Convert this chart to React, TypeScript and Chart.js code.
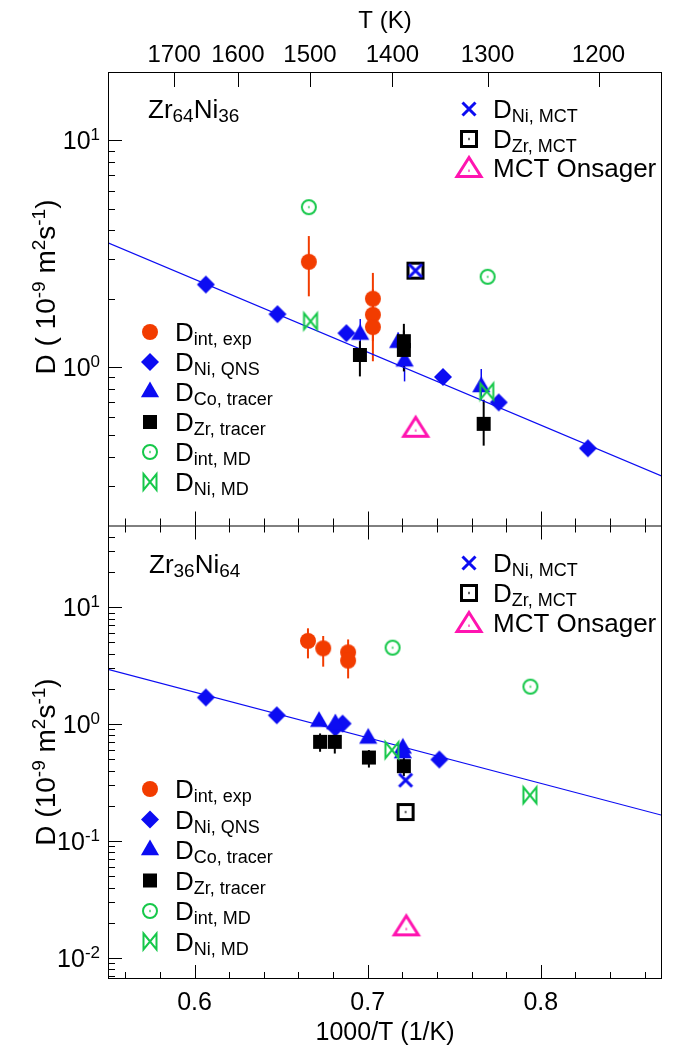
import React, { useEffect, useRef } from 'react';
import { Chart, registerables } from 'chart.js';

Chart.register(...registerables);

// ---------- axes ----------
const X_MIN = 0.55;
const X_MAX = 0.87;
const xMajorTicks = [0.6, 0.7, 0.8];
const xMajorLabels = ['0.6', '0.7', '0.8'];
const topTempTicks = [1700, 1600, 1500, 1400, 1300, 1200];
const yTopRange = [0.2, 20];
const yBotRange = [0.0066, 50];
const yTopDecades = [0, 1];
const yBotDecades = [-2, -1, 0, 1];

// ---------- fit lines ----------
const fitX = [0.55, 0.87];
const fitTopY = [3.53, 0.33];
const fitBotY = [2.94, 0.166];

// ---------- Zr64Ni36 (top panel) ----------
const topIntExpX = [0.666, 0.703, 0.703, 0.703];
const topIntExpY = [2.91, 2.0, 1.7, 1.5];
const topIntExpLo = [2.05, 1.5, 1.3, 1.06];
const topIntExpHi = [3.78, 2.6, 2.2, 1.9];

const topQnsX = [0.6065, 0.6479, 0.6877, 0.7435, 0.7757, 0.8272];
const topQnsY = [2.31, 1.71, 1.41, 0.904, 0.698, 0.438];

const topCoX = [0.6957, 0.7176, 0.7213, 0.7656];
const topCoY = [1.39, 1.28, 1.06, 0.816];
const topCoLo = [1.15, 1.15, 0.864, 0.717];
const topCoHi = [1.63, 1.42, 1.25, 0.98];

const topZrX = [0.6955, 0.7209, 0.7209, 0.767];
const topZrY = [1.13, 1.3, 1.19, 0.5615];
const topZrLo = [0.909, 1.0, 0.956, 0.45];
const topZrHi = [1.3, 1.55, 1.45, 0.717];

const topIntMdX = [0.666, 0.7693];
const topIntMdY = [5.07, 2.5];

const topNiMdX = [0.667, 0.7688];
const topNiMdY = [1.59, 0.78];

const topNiMctX = [0.7276];
const topNiMctY = [2.66];
const topZrMctX = [0.7276];
const topZrMctY = [2.66];
const topOnsX = [0.7277];
const topOnsY = [0.545];

// ---------- Zr36Ni64 (bottom panel) ----------
const botIntExpX = [0.6655, 0.6743, 0.6887, 0.6887];
const botIntExpY = [5.15, 4.45, 4.11, 3.49];
const botIntExpLo = [3.65, 3.1, 3.0, 2.46];
const botIntExpHi = [6.6, 5.67, 5.3, 4.3];

const botQnsX = [0.6065, 0.6475, 0.6813, 0.6855, 0.7414];
const botQnsY = [1.69, 1.19, 0.93, 1.01, 0.498];

const botCoX = [0.6719, 0.6813, 0.7003, 0.7203, 0.7203];
const botCoY = [1.05, 1.0, 0.754, 0.62, 0.565];

const botZrX = [0.6725, 0.681, 0.7007, 0.7209];
const botZrY = [0.705, 0.705, 0.518, 0.437];
const botZrLo = [0.58, 0.56, 0.425, 0.36];
const botZrHi = [0.832, 0.85, 0.6, 0.52];

const botIntMdX = [0.7144, 0.794];
const botIntMdY = [4.51, 2.09];

const botNiMdX = [0.714, 0.7937];
const botNiMdY = [0.599, 0.246];

const botNiMctX = [0.7219];
const botNiMctY = [0.331];
const botZrMctX = [0.7219];
const botZrMctY = [0.177];
const botOnsX = [0.7223];
const botOnsY = [0.019];

// ---------- text ----------
const legendLeft = [
  ['intExp', 'int, exp'],
  ['qns', 'Ni, QNS'],
  ['co', 'Co, tracer'],
  ['zr', 'Zr, tracer'],
  ['intMD', 'int, MD'],
  ['niMD', 'Ni, MD'],
];
const legendRight = [
  ['niMCT', 'Ni, MCT'],
  ['zrMCT', 'Zr, MCT'],
  ['ons', ''],
];

// ---------- styles ----------
const FONT = '"Liberation Sans", Arial, Helvetica, sans-serif';
const BLUE = '#0c0cf2';
const ORANGE = '#f23c00';
const GREEN = '#16c84a';
const MAGENTA = '#ff14b0';
const BLACK = '#000000';

type Part = [string, 'n' | 'sub' | 'sup'];

function drawMarker(ctx: CanvasRenderingContext2D, kind: string, x: number, y: number) {
  ctx.save();
  ctx.lineJoin = 'miter';
  ctx.beginPath();
  switch (kind) {
    case 'intExp':
      ctx.fillStyle = ORANGE;
      ctx.arc(x, y, 8, 0, Math.PI * 2);
      ctx.fill();
      break;
    case 'qns':
      ctx.fillStyle = BLUE;
      ctx.moveTo(x - 9, y);
      ctx.lineTo(x, y - 9);
      ctx.lineTo(x + 9, y);
      ctx.lineTo(x, y + 9);
      ctx.closePath();
      ctx.fill();
      break;
    case 'co': {
      const r = 10.5;
      ctx.fillStyle = BLUE;
      ctx.moveTo(x, y - r);
      ctx.lineTo(x + 0.866 * r, y + 0.5 * r);
      ctx.lineTo(x - 0.866 * r, y + 0.5 * r);
      ctx.closePath();
      ctx.fill();
      break;
    }
    case 'zr':
      ctx.fillStyle = BLACK;
      ctx.fillRect(x - 7, y - 7, 14, 14);
      break;
    case 'intMD':
      ctx.strokeStyle = GREEN;
      ctx.lineWidth = 2;
      ctx.arc(x, y, 7, 0, Math.PI * 2);
      ctx.stroke();
      ctx.fillStyle = GREEN;
      ctx.fillRect(x - 0.6, y - 1.2, 1.2, 2.4);
      break;
    case 'niMD':
      ctx.strokeStyle = GREEN;
      ctx.lineWidth = 2;
      ctx.moveTo(x - 6.5, y - 8);
      ctx.lineTo(x + 6.5, y + 8);
      ctx.lineTo(x + 6.5, y - 8);
      ctx.lineTo(x - 6.5, y + 8);
      ctx.closePath();
      ctx.stroke();
      break;
    case 'niMCT':
      ctx.strokeStyle = BLUE;
      ctx.lineWidth = 3;
      ctx.moveTo(x - 6.5, y - 6.5);
      ctx.lineTo(x + 6.5, y + 6.5);
      ctx.moveTo(x + 6.5, y - 6.5);
      ctx.lineTo(x - 6.5, y + 6.5);
      ctx.stroke();
      break;
    case 'zrMCT':
      ctx.strokeStyle = BLACK;
      ctx.lineWidth = 3;
      ctx.strokeRect(x - 7.5, y - 7.5, 15, 15);
      ctx.fillStyle = BLACK;
      ctx.fillRect(x - 0.6, y - 1.2, 1.2, 2.4);
      break;
    case 'ons':
      ctx.strokeStyle = MAGENTA;
      ctx.lineWidth = 3;
      ctx.moveTo(x, y - 9.5);
      ctx.lineTo(x + 12, y + 9.5);
      ctx.lineTo(x - 12, y + 9.5);
      ctx.closePath();
      ctx.stroke();
      ctx.fillStyle = MAGENTA;
      ctx.fillRect(x - 0.6, y + 2.5, 1.2, 2.4);
      break;
  }
  ctx.restore();
}

function makeMarkerCanvas(kind: string): HTMLCanvasElement {
  const c = document.createElement('canvas');
  c.width = 32;
  c.height = 32;
  const ctx = c.getContext('2d')!;
  drawMarker(ctx, kind, 16, 16);
  return c;
}

function richWidth(ctx: CanvasRenderingContext2D, parts: Part[], size: number, small: number) {
  let w = 0;
  for (const [t, k] of parts) {
    ctx.font = `${k === 'n' ? size : small}px ${FONT}`;
    w += ctx.measureText(t).width;
  }
  return w;
}

function drawRich(
  ctx: CanvasRenderingContext2D,
  parts: Part[],
  x: number,
  y: number,
  size: number,
  small: number,
  align: 'left' | 'center' | 'right' = 'left',
  supDy = -9,
) {
  const w = richWidth(ctx, parts, size, small);
  let cx = align === 'center' ? x - w / 2 : align === 'right' ? x - w : x;
  ctx.textAlign = 'left';
  ctx.textBaseline = 'alphabetic';
  for (const [t, k] of parts) {
    ctx.font = `${k === 'n' ? size : small}px ${FONT}`;
    const dy = k === 'sub' ? 4 : k === 'sup' ? supDy : 0;
    ctx.fillText(t, cx, y + dy);
    cx += ctx.measureText(t).width;
  }
}

function minorValues(min: number, max: number) {
  const out: number[] = [];
  for (let d = Math.floor(Math.log10(min)); d <= Math.ceil(Math.log10(max)); d++) {
    for (let m = 2; m <= 9; m++) {
      const v = m * Math.pow(10, d);
      if (v > min && v < max) out.push(v);
    }
  }
  return out;
}

const errorBarSets = [
  { axis: 'yTop', xs: topIntExpX, lo: topIntExpLo, hi: topIntExpHi, color: ORANGE, width: 2 },
  { axis: 'yTop', xs: topCoX, lo: topCoLo, hi: topCoHi, color: BLUE, width: 1.5 },
  { axis: 'yTop', xs: topZrX, lo: topZrLo, hi: topZrHi, color: BLACK, width: 2 },
  { axis: 'yBot', xs: botIntExpX, lo: botIntExpLo, hi: botIntExpHi, color: ORANGE, width: 2 },
  { axis: 'yBot', xs: botZrX, lo: botZrLo, hi: botZrHi, color: BLACK, width: 2 },
];

const framePlugin = {
  id: 'frame',
  beforeDatasetsDraw(chart: any) {
    const ctx: CanvasRenderingContext2D = chart.ctx;
    const xs = chart.scales.x;
    for (const set of errorBarSets) {
      const ys = chart.scales[set.axis];
      ctx.save();
      ctx.strokeStyle = set.color;
      ctx.lineWidth = set.width;
      for (let i = 0; i < set.xs.length; i++) {
        const px = xs.getPixelForValue(set.xs[i]);
        ctx.beginPath();
        ctx.moveTo(px, ys.getPixelForValue(set.lo[i]));
        ctx.lineTo(px, ys.getPixelForValue(set.hi[i]));
        ctx.stroke();
      }
      ctx.restore();
    }
  },
  afterDatasetsDraw(chart: any) {
    const ctx: CanvasRenderingContext2D = chart.ctx;
    const xs = chart.scales.x;
    const yT = chart.scales.yTop;
    const yB = chart.scales.yBot;
    const { left, right, top, bottom } = chart.chartArea;
    const mid = yT.bottom;

    ctx.save();
    ctx.strokeStyle = BLACK;
    ctx.fillStyle = BLACK;
    ctx.lineWidth = 1;
    ctx.strokeRect(left + 0.5, top + 0.5, right - left - 1, bottom - top - 1);
    ctx.beginPath();
    ctx.moveTo(left, mid + 0.5);
    ctx.lineTo(right, mid + 0.5);
    ctx.stroke();

    // x ticks (bottom, divider)
    ctx.beginPath();
    for (let k = 28; k <= 43; k++) {
      const v = k * 0.02;
      const isMajor = k % 5 === 0;
      const len = isMajor ? 14 : 7;
      const px = Math.round(xs.getPixelForValue(v)) + 0.5;
      ctx.moveTo(px, bottom);
      ctx.lineTo(px, bottom - len);
      ctx.moveTo(px, mid);
      ctx.lineTo(px, mid - len);
      ctx.moveTo(px, mid);
      ctx.lineTo(px, mid + len);
    }
    // top temperature ticks
    for (const T of topTempTicks) {
      const px = Math.round(xs.getPixelForValue(1000 / T)) + 0.5;
      ctx.moveTo(px, top);
      ctx.lineTo(px, top + 15);
    }
    // y ticks
    for (const [sc, rng, decs] of [
      [yT, yTopRange, yTopDecades],
      [yB, yBotRange, yBotDecades],
    ] as any) {
      for (const d of decs) {
        const py = Math.round(sc.getPixelForValue(Math.pow(10, d))) + 0.5;
        ctx.moveTo(left, py);
        ctx.lineTo(left + 14, py);
      }
      for (const v of minorValues(rng[0], rng[1])) {
        const py = Math.round(sc.getPixelForValue(v)) + 0.5;
        ctx.moveTo(left, py);
        ctx.lineTo(left + 7, py);
      }
    }
    ctx.stroke();

    // tick labels
    ctx.textBaseline = 'alphabetic';
    ctx.textAlign = 'center';
    ctx.font = `25px ${FONT}`;
    xMajorTicks.forEach((v, i) => {
      ctx.fillText(xMajorLabels[i], xs.getPixelForValue(v), 1010);
    });
    ctx.font = `24px ${FONT}`;
    topTempTicks.forEach((T) => {
      ctx.fillText(String(T), xs.getPixelForValue(1000 / T), 62);
    });
    ctx.font = `24px ${FONT}`;
    ctx.fillText('T (K)', (left + right) / 2, 28);
    ctx.font = `25px ${FONT}`;
    ctx.fillText('1000/T (1/K)', (left + right) / 2, 1040);

    for (const [sc, decs] of [
      [yT, yTopDecades],
      [yB, yBotDecades],
    ] as any) {
      for (const d of decs) {
        const py = sc.getPixelForValue(Math.pow(10, d));
        drawRich(ctx, [['10', 'n'], [String(d), 'sup']], 100, py + 9, 25, 17, 'right');
      }
    }

    // y titles
    const titles: [number, Part[]][] = [
      [
        287,
        [['D ( 10', 'n'], ['-9', 'sup'], [' m', 'n'], ['2', 'sup'], ['s', 'n'], ['-1', 'sup'], [')', 'n']],
      ],
      [
        762,
        [['D (10', 'n'], ['-9', 'sup'], [' m', 'n'], ['2', 'sup'], ['s', 'n'], ['-1', 'sup'], [')', 'n']],
      ],
    ];
    for (const [cy, parts] of titles) {
      ctx.save();
      ctx.translate(55, cy);
      ctx.rotate(-Math.PI / 2);
      drawRich(ctx, parts, 0, 0, 28, 19, 'center', -10);
      ctx.restore();
    }

    // panel labels
    drawRich(ctx, [['Zr', 'n'], ['64', 'sub'], ['Ni', 'n'], ['36', 'sub']], 148, 118, 26, 19);
    drawRich(ctx, [['Zr', 'n'], ['36', 'sub'], ['Ni', 'n'], ['64', 'sub']], 149, 573, 26, 19);

    // legends
    const leftRows = [
      [332, 30],
      [789, 30.5],
    ];
    for (const [y0, step] of leftRows) {
      legendLeft.forEach(([kind, sub], i) => {
        const y = y0 + i * step;
        drawMarker(ctx, kind, 150, y);
        ctx.fillStyle = BLACK;
        drawRich(ctx, [['D', 'n'], [sub, 'sub']], 175, y + 9, 26, 18);
      });
    }
    const rightRows = [
      [109, 139, 167],
      [563, 593, 622],
    ];
    for (const rows of rightRows) {
      legendRight.forEach(([kind, sub], i) => {
        const y = rows[i];
        drawMarker(ctx, kind, 469, y);
        ctx.fillStyle = BLACK;
        if (sub) drawRich(ctx, [['D', 'n'], [sub, 'sub']], 493, y + 9, 26, 18);
        else drawRich(ctx, [['MCT Onsager', 'n']], 493, y + 10, 26, 18);
      });
    }
    ctx.restore();
  },
};

export default function App() {
  const ref = useRef<HTMLCanvasElement>(null);
  useEffect(() => {
    const canvas = ref.current;
    if (!canvas) return;
    const kinds = ['intExp', 'qns', 'co', 'zr', 'intMD', 'niMD', 'niMCT', 'zrMCT', 'ons'];
    const markers: Record<string, HTMLCanvasElement> = {};
    kinds.forEach((k) => (markers[k] = makeMarkerCanvas(k)));

    const pts = (xs: number[], ys: number[]) => xs.map((x, i) => ({ x, y: ys[i] }));
    const ds = (label: string, kind: string, xs: number[], ys: number[], axis: string) => ({
      type: 'scatter' as const,
      label,
      data: pts(xs, ys),
      xAxisID: 'x',
      yAxisID: axis,
      pointStyle: markers[kind],
      pointRadius: 10,
      showLine: false,
    });
    const fit = (ys: number[], axis: string) => ({
      type: 'line' as const,
      label: 'fit',
      data: pts(fitX, ys),
      xAxisID: 'x',
      yAxisID: axis,
      borderColor: BLUE,
      borderWidth: 1.2,
      pointRadius: 0,
      fill: false,
    });

    const datasets: any[] = [
      ds('D Ni,MCT', 'niMCT', topNiMctX, topNiMctY, 'yTop'),
      ds('D Zr,MCT', 'zrMCT', topZrMctX, topZrMctY, 'yTop'),
      ds('MCT Onsager', 'ons', topOnsX, topOnsY, 'yTop'),
      ds('D int,MD', 'intMD', topIntMdX, topIntMdY, 'yTop'),
      ds('D Ni,MD', 'niMD', topNiMdX, topNiMdY, 'yTop'),
      ds('D Zr,tracer', 'zr', topZrX, topZrY, 'yTop'),
      ds('D Co,tracer', 'co', topCoX, topCoY, 'yTop'),
      ds('D Ni,QNS', 'qns', topQnsX, topQnsY, 'yTop'),
      ds('D int,exp', 'intExp', topIntExpX, topIntExpY, 'yTop'),
      ds('D Ni,MCT', 'niMCT', botNiMctX, botNiMctY, 'yBot'),
      ds('D Zr,MCT', 'zrMCT', botZrMctX, botZrMctY, 'yBot'),
      ds('MCT Onsager', 'ons', botOnsX, botOnsY, 'yBot'),
      ds('D int,MD', 'intMD', botIntMdX, botIntMdY, 'yBot'),
      ds('D Ni,MD', 'niMD', botNiMdX, botNiMdY, 'yBot'),
      ds('D Zr,tracer', 'zr', botZrX, botZrY, 'yBot'),
      ds('D Co,tracer', 'co', botCoX, botCoY, 'yBot'),
      ds('D Ni,QNS', 'qns', botQnsX, botQnsY, 'yBot'),
      ds('D int,exp', 'intExp', botIntExpX, botIntExpY, 'yBot'),
      fit(fitTopY, 'yTop'),
      fit(fitBotY, 'yBot'),
    ];

    const hidden = {
      grid: { display: false },
      border: { display: false },
      ticks: { display: false },
    };

    const chart = new Chart(canvas, {
      type: 'scatter',
      data: { datasets },
      options: {
        animation: false,
        responsive: false,
        maintainAspectRatio: false,
        devicePixelRatio: 1,
        events: [],
        layout: { padding: { left: 0, right: 10, top: 0, bottom: 0 } },
        plugins: { legend: { display: false }, tooltip: { enabled: false } },
        scales: {
          x: {
            type: 'linear',
            position: 'bottom',
            min: X_MIN,
            max: X_MAX,
            ...hidden,
            afterFit: (s: any) => {
              s.height = 70;
            },
          },
          xT: {
            type: 'linear',
            position: 'top',
            min: X_MIN,
            max: X_MAX,
            ...hidden,
            afterFit: (s: any) => {
              s.height = 72;
            },
          },
          yBot: {
            type: 'logarithmic',
            position: 'left',
            stack: 'panels',
            stackWeight: 1,
            min: yBotRange[0],
            max: yBotRange[1],
            ...hidden,
            afterFit: (s: any) => {
              s.width = 108;
            },
          },
          yTop: {
            type: 'logarithmic',
            position: 'left',
            stack: 'panels',
            stackWeight: 1,
            min: yTopRange[0],
            max: yTopRange[1],
            ...hidden,
            afterFit: (s: any) => {
              s.width = 108;
            },
          },
        } as any,
      },
      plugins: [framePlugin],
    });
    return () => chart.destroy();
  }, []);

  return (
    <div style={{ position: 'absolute', left: 0, top: 0, width: 673, height: 1049, background: '#fff' }}>
      <canvas ref={ref} width={673} height={1049} style={{ display: 'block', width: 673, height: 1049 }} />
    </div>
  );
}
